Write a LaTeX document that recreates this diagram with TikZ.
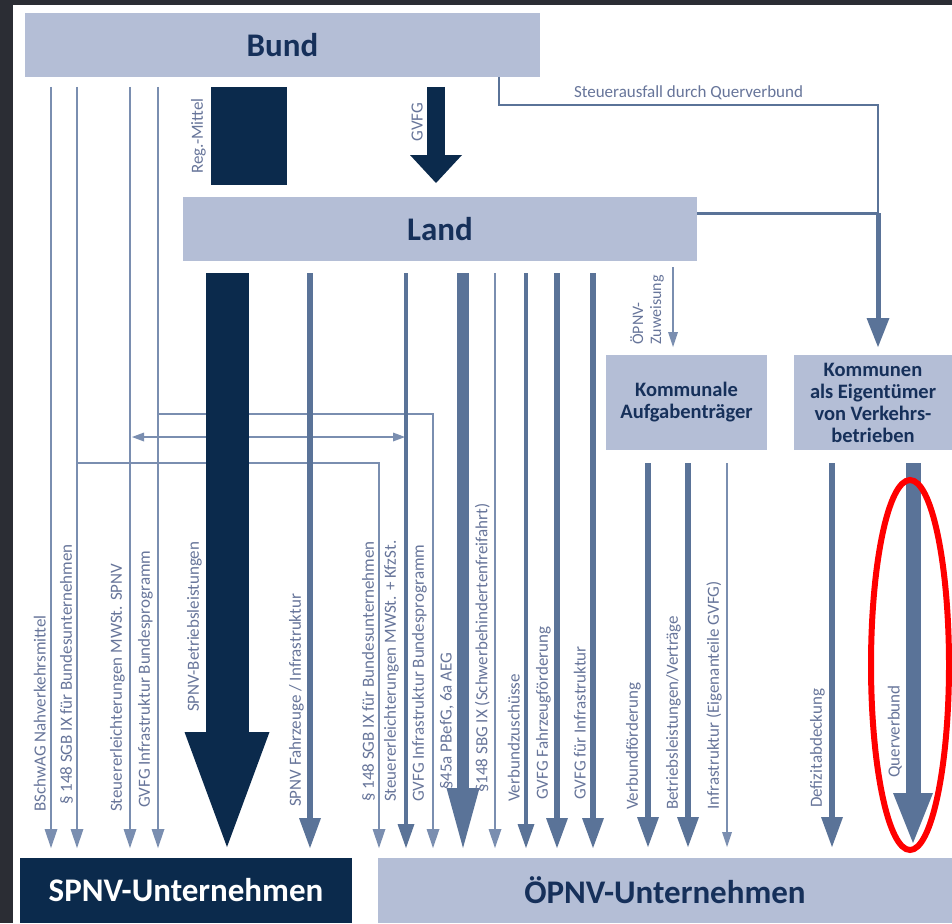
\documentclass[tikz,border=0pt]{standalone}
\usepackage{fontspec}
\setmainfont{Carlito}
\usepackage{xcolor}
\usetikzlibrary{arrows.meta}

\definecolor{rahmen}{HTML}{2B2D34}
\definecolor{kastenblau}{HTML}{B4BED6}
\definecolor{marine}{HTML}{0B2A4C}
\definecolor{schiefer}{HTML}{5A7398}
\definecolor{hellblau}{HTML}{7A8EB0}
\definecolor{grauschrift}{HTML}{67759A}
\definecolor{kastenschrift}{HTML}{16305A}

\tikzset{
  ebene/.style={fill=kastenblau, text=kastenschrift, inner sep=0pt, outer sep=0pt,
    anchor=north west, align=center, font=\bfseries\fontsize{33}{36}\selectfont},
  traeger/.style={ebene, font=\bfseries\fontsize{20.5}{22}\selectfont},
  beschr/.style={text=grauschrift, font=\fontsize{17}{19}\selectfont, inner sep=0pt,
    rotate=90, anchor=south west},
  beschrquer/.style={text=grauschrift, font=\fontsize{17}{19}\selectfont, inner sep=0pt},
  duenn/.style={draw=hellblau, line width=2.2pt,
    -{Triangle[length=19pt, width=13pt, line width=0pt]}},
  fein/.style={draw=hellblau, line width=2pt,
    -{Triangle[length=15pt, width=10pt, line width=0pt]}},
  mittel/.style={draw=schiefer, line width=4.5pt,
    -{Triangle[length=24pt, width=17pt, line width=0pt]}},
  breit/.style={draw=schiefer, line width=6.5pt,
    -{Triangle[length=30pt, width=22pt, line width=0pt]}},
  dick/.style={draw=schiefer, line width=12pt,
    -{Triangle[length=60pt, width=33pt, line width=0pt]}},
  sehrdick/.style={draw=schiefer, line width=15pt,
    -{Triangle[length=50pt, width=40pt, line width=0pt]}},
  riesig/.style={draw=marine, line width=43pt,
    -{Triangle[length=115pt, width=85pt, line width=0pt]}},
  tausch/.style={draw=hellblau, line width=2pt,
    {Triangle[length=12pt, width=9pt, line width=0pt]}-{Triangle[length=12pt, width=9pt, line width=0pt]}},
  vonbund/.style={shorten <=10pt, shorten >=10pt},
  vonland/.style={shorten <=12pt, shorten >=10pt},
  vonkomm/.style={shorten <=13pt, shorten >=11pt}
}

\begin{document}
\begin{tikzpicture}[x=1pt, y=-1pt]
\useasboundingbox (0,0) rectangle (952,923);
\fill[rahmen] (0,0) rectangle (952,923);
\fill[white] (13,5) rectangle (952,923);

\node[ebene, minimum width=515pt, minimum height=64pt] (Bund) at (25,13) {Bund};
\node[ebene, minimum width=514pt, minimum height=64pt] (Land) at (183,197) {Land};
\node[traeger, minimum width=161pt, minimum height=95pt] (KommAuf) at (606,355) {Kommunale\\Aufgabenträger};
\node[traeger, minimum width=158pt, minimum height=95pt] (KommEig) at (794,355) {Kommunen\\als Eigentümer\\von Verkehrs-\\betrieben};
\node[ebene, fill=marine, text=white, minimum width=332pt, minimum height=65pt] (SPNV) at (20,858) {SPNV-Unternehmen};
\node[ebene, minimum width=574pt, minimum height=65pt] (OEPNV) at (378,858) {ÖPNV-Unternehmen};
\node[fill=marine, inner sep=0pt, outer sep=0pt, anchor=north west, minimum width=76pt, minimum height=98pt] (RegMittel) at (211,87) {};
\node[beschr, anchor=south] (tReg) at ([xshift=-5pt]RegMittel.west) {Reg.-Mittel};

\coordinate (BSchwAG) at (51,0);
\coordinate (SGB) at (77,0);
\coordinate (MWSt) at (130,0);
\coordinate (GVFGBund) at (158,0);
\coordinate (Betrieb) at (227,0);
\coordinate (Fahrzeuge) at (310,0);
\coordinate (SGBoe) at (379,0);
\coordinate (KfzSt) at (406,0);
\coordinate (GVFGoe) at (433,0);
\coordinate (PBefG) at (463,0);
\coordinate (SBG) at (495,0);
\coordinate (Verbund) at (526,0);
\coordinate (Fahrzeugf) at (557,0);
\coordinate (Infra) at (593,0);
\coordinate (Verbundf) at (648,0);
\coordinate (Vertraege) at (688,0);
\coordinate (Eigen) at (727,0);
\coordinate (Defizit) at (832,0);
\coordinate (Quer) at (913,0);
\coordinate (GVFG) at (436,0);
\coordinate (Zuweisung) at (673,0);
\coordinate (Steuer) at (499,105);
\coordinate (Knick) at (878,105);
\coordinate (Einmuendung) at (878,213);
\coordinate (SGBab) at (77,463);
\coordinate (GVFGab) at (158,414);
\coordinate (Tausch) at (130,437);

\draw[draw=marine, line width=18pt, shorten <=10pt, shorten >=14pt,
  -{Triangle[length=28pt, width=52pt, line width=0pt]}] (Bund.south -| GVFG) -- (Land.north -| GVFG);
\node[beschr, anchor=south] (tGVFG) at (423,122) {GVFG};

\draw[schiefer, line width=2.5pt] (Bund.south -| Steuer) -- (Steuer)
  -- node[beschrquer, midway, above=4pt] (tSteuer) {Steuerausfall durch Querverbund} (Knick) -- (Einmuendung);
\draw[schiefer, line width=3pt] (Land.east |- Einmuendung) -- (Einmuendung);
\draw[draw=schiefer, line width=5pt, shorten >=8pt,
  -{Triangle[length=29pt, width=23pt, line width=0pt]}] (Einmuendung) -- (KommEig.north -| Einmuendung);

\draw[fein, shorten <=6pt, shorten >=8pt] (Land.south -| Zuweisung) -- (KommAuf.north -| Zuweisung);
\node[beschr, align=left, font=\fontsize{16}{18}\selectfont] (tZuw) at (664,345) {ÖPNV-\\Zuweisung};

\draw[duenn, shorten >=10pt] (GVFGab) -| (OEPNV.north -| GVFGoe);
\draw[duenn, shorten >=10pt] (SGBab) -| (OEPNV.north -| SGBoe);
\draw[tausch, shorten <=2pt, shorten >=1pt] (Tausch) -- (Tausch -| KfzSt);

\draw[duenn, vonbund] (Bund.south -| BSchwAG) -- (SPNV.north -| BSchwAG);
\draw[duenn, vonbund] (Bund.south -| SGB) -- (SPNV.north -| SGB);
\draw[duenn, vonbund] (Bund.south -| MWSt) -- (SPNV.north -| MWSt);
\draw[duenn, vonbund] (Bund.south -| GVFGBund) -- (SPNV.north -| GVFGBund);

\draw[riesig, vonland, shorten >=11pt] (Land.south -| Betrieb) -- (SPNV.north -| Betrieb);
\draw[breit, vonland] (Land.south -| Fahrzeuge) -- (SPNV.north -| Fahrzeuge);
\draw[mittel, vonland] (Land.south -| KfzSt) -- (OEPNV.north -| KfzSt);
\draw[dick, vonland] (Land.south -| PBefG) -- (OEPNV.north -| PBefG);
\draw[duenn, vonland] (Land.south -| SBG) -- (OEPNV.north -| SBG);
\draw[mittel, vonland] (Land.south -| Verbund) -- (OEPNV.north -| Verbund);
\draw[breit, vonland] (Land.south -| Fahrzeugf) -- (OEPNV.north -| Fahrzeugf);
\draw[breit, vonland] (Land.south -| Infra) -- (OEPNV.north -| Infra);

\draw[breit, vonkomm] (KommAuf.south -| Verbundf) -- (OEPNV.north -| Verbundf);
\draw[breit, vonkomm] (KommAuf.south -| Vertraege) -- (OEPNV.north -| Vertraege);
\draw[fein, vonkomm] (KommAuf.south -| Eigen) -- (OEPNV.north -| Eigen);
\draw[breit, vonkomm] (KommEig.south -| Defizit) -- (OEPNV.north -| Defizit);
\draw[sehrdick, vonkomm, shorten >=15pt] (KommEig.south -| Quer) -- (OEPNV.north -| Quer);

\node[beschr] (tBSchwAG) at (46,812) {BSchwAG Nahverkehrsmittel};
\node[beschr] (tSGB) at (73,805) {§ 148 SGB IX für Bundesunternehmen};
\node[beschr] (tMWSt) at (125,812) {Steuererleichterungen MWSt. SPNV};
\node[beschr] (tGVFGBund) at (153,808) {GVFG Infrastruktur Bundesprogramm};
\node[beschr] (tBetrieb) at (202,712) {SPNV-Betriebsleistungen};
\node[beschr] (tFahrzeuge) at (304,807) {SPNV Fahrzeuge / Infrastruktur};
\node[beschr] (tSGBoe) at (375,802) {§ 148 SGB IX für Bundesunternehmen};
\node[beschr] (tKfzSt) at (399,802) {Steuererleichterungen MWSt. + KfzSt.};
\node[beschr] (tGVFGoe) at (427,802) {GVFG Infrastruktur Bundesprogramm};
\node[beschr] (tPBefG) at (454,790) {§45a PBefG, 6a AEG};
\node[beschr] (tSBG) at (490,793) {§148 SBG IX (Schwerbehindertenfreifahrt)};
\node[beschr] (tVerbund) at (520,802) {Verbundzuschüsse};
\node[beschr] (tFahrzeugf) at (551,800) {GVFG Fahrzeugförderung};
\node[beschr] (tInfra) at (586,800) {GVFG für Infrastruktur};
\node[beschr] (tVerbundf) at (641,810) {Verbundförderung};
\node[beschr] (tVertraege) at (681,810) {Betriebsleistungen/Verträge};
\node[beschr] (tEigen) at (722,810) {Infrastruktur (Eigenanteile GVFG)};
\node[beschr] (tDefizit) at (825,808) {Defizitabdeckung};
\node[beschr] (tQuer) at (902,778) {Querverbund};

\draw[red, line width=6pt] (910,665) ellipse [x radius=39, y radius=185];
\end{tikzpicture}
\end{document}
